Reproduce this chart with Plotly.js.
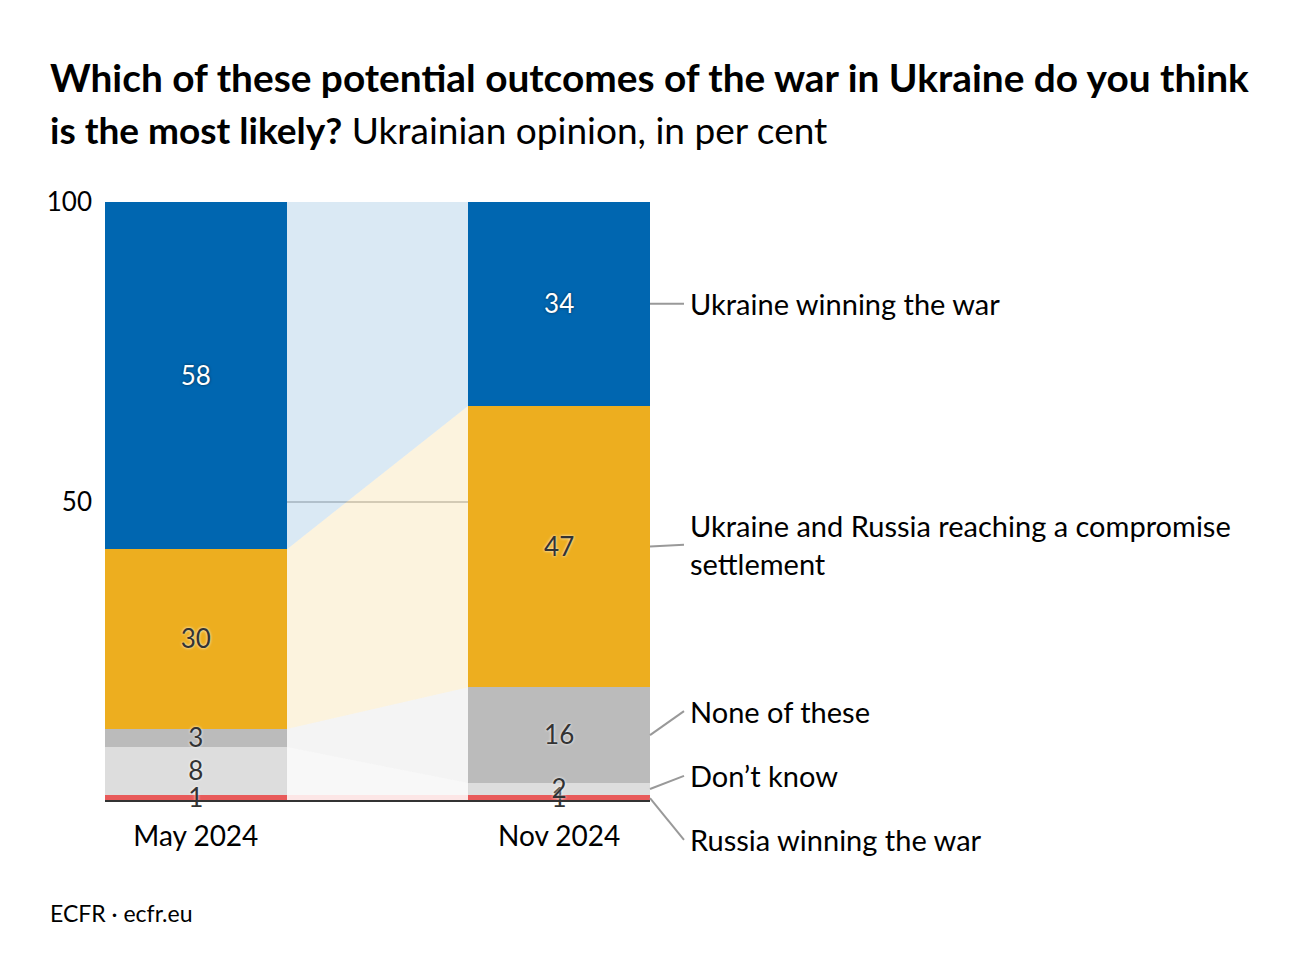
<!DOCTYPE html>
<html>
<head>
<meta charset="utf-8">
<script src="https://cdn.plot.ly/plotly-3.0.1.min.js"></script>
<style>html,body{margin:0;padding:0;background:#fff;}#chart{width:1300px;height:980px;}</style>
</head>
<body>
<div id="chart"></div>
<script>
// ---- Data ----
const periods = ["May 2024", "Nov 2024"];
const seriesNames = ["Russia winning the war", "Don\u2019t know", "None of these", "Ukraine and Russia reaching a compromise<br>settlement", "Ukraine winning the war"];
const russiaWinning = [1, 1];
const dontKnow = [8, 2];
const noneOfThese = [3, 16];
const compromise = [30, 47];
const ukraineWinning = [58, 34];
const yTickVals = [50, 100];

// ---- Styles ----
const seriesValues = [russiaWinning, dontKnow, noneOfThese, compromise, ukraineWinning];
const barColors = ["#e85a5a", "#dddddd", "#bbbbbb", "#edae1f", "#0066b0"];
const bandColors = ["rgba(232,90,90,0.15)", "rgba(200,200,200,0.12)", "rgba(187,187,187,0.17)", "rgba(237,174,31,0.15)", "rgba(0,102,176,0.145)"];
const textColors = ["#333333", "#333333", "#333333", "#333333", "#ffffff"];
const textShadows = ["0 0 3px #ffffff", "0 0 3px #ffffff", "0 0 3px #ffffff", "0 0 3px #ffffff", "0 0 3px rgba(0,0,0,0.6)"];
const labelOffsets = [-7, 2.2, 4, 0.3, 0]; // label vertical offset from segment middle (y units)
const textNudge = -0.45; // small vertical nudge of value labels (y units)
const FONT = "Lato, 'Open Sans', sans-serif";

const xPos = periods.map((_, i) => i);
const halfW = 0.25;
const Y_MAX = 100;

const traces = [];
const bases = seriesValues.map((vals, s) => vals.map((_, i) => {
  let b = 0; for (let k = 0; k < s; k++) b += seriesValues[k][i]; return b;
}));

// connecting bands
seriesValues.forEach((vals, s) => {
  const b = bases[s];
  traces.push({
    type: "scatter", mode: "lines",
    x: [xPos[0] + halfW, xPos[1] - halfW, xPos[1] - halfW, xPos[0] + halfW, xPos[0] + halfW],
    y: [b[0] + vals[0], b[1] + vals[1], b[1], b[0], b[0] + vals[0]],
    fill: "toself", fillcolor: bandColors[s], line: {width: 0}, hoverinfo: "skip", showlegend: false
  });
});

// bars
seriesValues.forEach((vals, s) => {
  traces.push({
    type: "bar", x: xPos, y: vals, width: 2 * halfW, name: seriesNames[s],
    marker: {color: barColors[s], line: {width: 0}}, showlegend: false, hoverinfo: "skip"
  });
});

// value labels
seriesValues.forEach((vals, s) => {
  traces.push({
    type: "scatter", mode: "text", x: xPos,
    y: vals.map((v, i) => bases[s][i] + v / 2 + textNudge),
    text: vals.map(String), textposition: "middle center",
    textfont: {family: FONT, size: 26, color: textColors[s], shadow: textShadows[s]},
    hoverinfo: "skip", showlegend: false, cliponaxis: false
  });
});

// layout helpers
const M = {l: 105, r: 650, t: 202, b: 179};
const H = 980, W = 1300;
const plotH = H - M.t - M.b, plotW = W - M.l - M.r;
const pyToPaper = py => (H - M.b - py) / plotH;
const pxToPaper = px => (px - M.l) / plotW;

const shapes = [];
const annotations = [];
const last = xPos.length - 1;
seriesValues.forEach((vals, s) => {
  const mid = bases[s][last] + vals[last] / 2;
  const ly = mid + labelOffsets[s];
  shapes.push({type: "line", xref: "paper", yref: "paper", x0: 1, x1: pxToPaper(684), y0: mid / Y_MAX, y1: ly / Y_MAX,
    line: {color: "#999999", width: 2}});
  annotations.push({xref: "paper", yref: "paper", x: pxToPaper(688), y: ly / Y_MAX, xanchor: "left", yanchor: "middle",
    text: seriesNames[s], showarrow: false, align: "left",
    font: {family: FONT, size: 29, color: "#000000"}});
});

annotations.push({xref: "paper", yref: "paper", x: pxToPaper(48), y: pyToPaper(77), xanchor: "left", yanchor: "middle",
  text: "<b>Which of these potential outcomes of the war in Ukraine do you think</b>", showarrow: false,
  font: {family: FONT, size: 38.8, color: "#000000"}});
annotations.push({xref: "paper", yref: "paper", x: pxToPaper(48), y: pyToPaper(129), xanchor: "left", yanchor: "middle",
  text: "<b>is the most likely?</b> Ukrainian opinion, in per cent", showarrow: false,
  font: {family: FONT, size: 37, color: "#000000"}});
annotations.push({xref: "paper", yref: "paper", x: pxToPaper(48), y: pyToPaper(913), xanchor: "left", yanchor: "middle",
  text: "ECFR \u00b7 ecfr.eu", showarrow: false,
  font: {family: FONT, size: 23, color: "#000000"}});

const layout = {
  width: W, height: H,
  margin: M,
  paper_bgcolor: "#ffffff", plot_bgcolor: "#ffffff",
  barmode: "stack",
  showlegend: false,
  xaxis: {
    type: "linear", range: [xPos[0] - halfW, xPos[last] + halfW],
    tickvals: xPos, ticktext: periods, ticks: "", showgrid: false, zeroline: false,
    showline: false, ticklabelstandoff: 16,
    tickfont: {family: FONT, size: 28, color: "#000000"}, fixedrange: true
  },
  yaxis: {
    range: [0, Y_MAX], tickvals: yTickVals, ticktext: yTickVals.map(String),
    showgrid: true, gridcolor: "#cfcfcf", gridwidth: 2, zeroline: false, showline: false,
    ticks: "", ticklabelstandoff: 12,
    tickfont: {family: FONT, size: 26, color: "#000000"}, fixedrange: true
  },
  shapes: shapes.concat([{type: "line", xref: "paper", yref: "paper", x0: 0, x1: 1, y0: 0, y1: 0,
    line: {color: "#333333", width: 2}}]),
  annotations: annotations
};

Plotly.newPlot("chart", traces, layout, {displayModeBar: false, staticPlot: true});
</script>
</body>
</html>
